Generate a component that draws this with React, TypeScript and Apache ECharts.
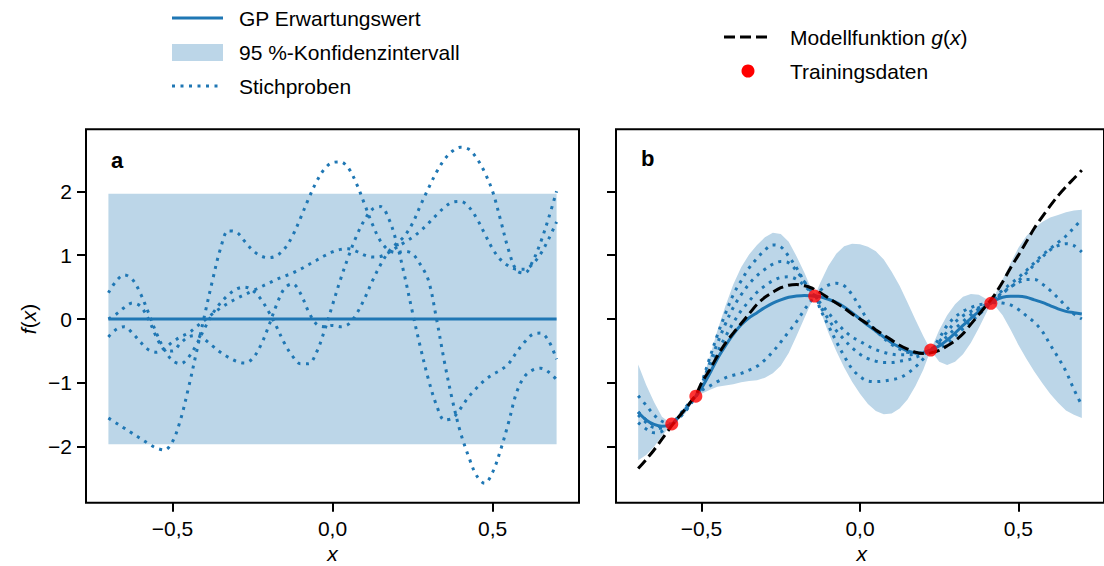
import React, { useEffect, useRef } from "react";
import * as echarts from "echarts";

// ---------- axes ----------
const xTicks = [-0.5, 0, 0.5];
const yTicks = [-2, -1, 0, 1, 2];
const X_MIN = -0.77;
const X_MAX = 0.77;
const Y_MIN = -2.875;
const Y_MAX = 2.97;

// ---------- panel a (prior) ----------
const aMeanX = [-0.7, 0.7];
const aMeanY = [0, 0];
const aLower = [-1.96, -1.96];
const aUpper = [1.96, 1.96];
const aX = [-0.7, -0.675, -0.65, -0.625, -0.6, -0.575, -0.55, -0.525, -0.5, -0.475, -0.45, -0.425, -0.4, -0.375, -0.35, -0.325, -0.3, -0.275, -0.25, -0.225, -0.2, -0.175, -0.15, -0.125, -0.1, -0.075, -0.05, -0.025, 0, 0.025, 0.05, 0.075, 0.1, 0.125, 0.15, 0.175, 0.2, 0.225, 0.25, 0.275, 0.3, 0.325, 0.35, 0.375, 0.4, 0.425, 0.45, 0.475, 0.5, 0.525, 0.55, 0.575, 0.6, 0.625, 0.65, 0.675, 0.7];
const aS1 = [0.41, 0.6, 0.69, 0.62, 0.4, 0.1, -0.22, -0.48, -0.65, -0.7, -0.6, -0.4, -0.15, 0.08, 0.25, 0.38, 0.47, 0.5, 0.45, 0.32, 0.12, -0.12, -0.38, -0.58, -0.7, -0.7, -0.52, -0.18, 0.22, 0.62, 0.98, 1.3, 1.55, 1.72, 1.76, 1.58, 1.2, 0.68, 0.1, -0.45, -0.95, -1.35, -1.58, -1.55, -1.4, -1.22, -1.08, -0.96, -0.87, -0.8, -0.7, -0.52, -0.36, -0.24, -0.22, -0.34, -0.63];
const aS2 = [-1.55, -1.63, -1.71, -1.79, -1.87, -1.95, -2.02, -2.05, -1.92, -1.58, -1.08, -0.52, 0.05, 0.6, 1.1, 1.38, 1.36, 1.22, 1.08, 0.99, 0.96, 0.99, 1.1, 1.3, 1.58, 1.88, 2.15, 2.35, 2.45, 2.46, 2.36, 2.12, 1.8, 1.48, 1.22, 1.08, 1.04, 1.06, 1.02, 0.85, 0.6, 0.0, -0.68, -1.28, -1.78, -2.15, -2.45, -2.57, -2.4, -2.05, -1.62, -1.15, -0.9, -0.8, -0.77, -0.83, -0.95];
const aS3 = [0.0, 0.08, 0.18, 0.25, 0.2, 0.0, -0.28, -0.48, -0.5, -0.38, -0.28, -0.26, -0.32, -0.42, -0.52, -0.6, -0.66, -0.69, -0.62, -0.42, -0.12, 0.22, 0.48, 0.55, 0.4, 0.12, -0.08, -0.12, -0.1, -0.12, -0.08, 0.08, 0.32, 0.6, 0.85, 1.05, 1.18, 1.3, 1.5, 1.78, 2.05, 2.3, 2.5, 2.63, 2.69, 2.66, 2.52, 2.3, 2.0, 1.55, 1.08, 0.76, 0.72, 0.9, 1.2, 1.58, 2.0];
const aS4 = [-0.28, -0.16, -0.12, -0.22, -0.36, -0.48, -0.52, -0.46, -0.36, -0.28, -0.22, -0.12, -0.02, 0.08, 0.17, 0.25, 0.32, 0.38, 0.44, 0.5, 0.56, 0.62, 0.67, 0.72, 0.78, 0.85, 0.92, 0.99, 1.05, 1.09, 1.1, 1.06, 1.0, 0.97, 0.98, 1.04, 1.12, 1.2, 1.28, 1.38, 1.5, 1.63, 1.75, 1.83, 1.84, 1.76, 1.58, 1.34, 1.1, 0.93, 0.83, 0.78, 0.78, 0.86, 1.02, 1.25, 1.52];

// ---------- panel b (posterior) ----------
const bX = [-0.7, -0.675, -0.65, -0.625, -0.594, -0.575, -0.55, -0.535, -0.518, -0.5, -0.475, -0.45, -0.425, -0.4, -0.375, -0.35, -0.325, -0.3, -0.275, -0.25, -0.225, -0.2, -0.175, -0.155, -0.143, -0.125, -0.1, -0.075, -0.05, -0.025, 0, 0.025, 0.05, 0.075, 0.1, 0.125, 0.15, 0.175, 0.2, 0.223, 0.25, 0.275, 0.3, 0.325, 0.35, 0.375, 0.4, 0.413, 0.425, 0.45, 0.475, 0.5, 0.525, 0.55, 0.575, 0.6, 0.625, 0.65, 0.675, 0.7];
const bMean = [-1.46, -1.58, -1.65, -1.68, -1.643, -1.55, -1.41, -1.31, -1.207, -1.08, -0.86, -0.62, -0.42, -0.24, -0.09, 0.02, 0.1, 0.18, 0.25, 0.3, 0.34, 0.36, 0.37, 0.365, 0.36, 0.35, 0.31, 0.26, 0.19, 0.1, 0.0, -0.1, -0.19, -0.28, -0.37, -0.44, -0.5, -0.53, -0.53, -0.485, -0.42, -0.33, -0.22, -0.1, 0.01, 0.12, 0.21, 0.247, 0.29, 0.34, 0.355, 0.355, 0.34, 0.3, 0.26, 0.21, 0.16, 0.12, 0.1, 0.08];
const bHalfWidth = [0.75, 0.55, 0.35, 0.15, 0.0, 0.04, 0.06, 0.04, 0.0, 0.09, 0.25, 0.44, 0.62, 0.78, 0.9, 0.99, 1.06, 1.1, 1.1, 1.03, 0.87, 0.62, 0.35, 0.12, 0.0, 0.22, 0.52, 0.76, 0.95, 1.08, 1.17, 1.23, 1.25, 1.21, 1.11, 0.96, 0.76, 0.52, 0.26, 0.0, 0.25, 0.39, 0.45, 0.45, 0.38, 0.26, 0.1, 0.0, 0.08, 0.28, 0.52, 0.76, 0.96, 1.12, 1.26, 1.38, 1.47, 1.55, 1.6, 1.63];
const bModel = [-2.34, -2.2, -2.05, -1.88, -1.67, -1.55, -1.4, -1.3, -1.19, -1.0, -0.8, -0.58, -0.38, -0.22, -0.07, 0.08, 0.23, 0.34, 0.42, 0.49, 0.53, 0.54, 0.52, 0.49, 0.46, 0.41, 0.33, 0.25, 0.17, 0.08, 0.0, -0.08, -0.17, -0.25, -0.33, -0.41, -0.47, -0.52, -0.54, -0.53, -0.49, -0.42, -0.34, -0.23, -0.08, 0.07, 0.22, 0.3, 0.38, 0.58, 0.8, 1.0, 1.21, 1.42, 1.6, 1.77, 1.93, 2.07, 2.2, 2.33];
const bS1 = [-1.2, -1.35, -1.5, -1.6, -1.643, -1.53, -1.38, -1.29, -1.207, -1.0, -0.62, -0.25, 0.08, 0.38, 0.6, 0.8, 0.95, 1.08, 1.16, 1.13, 0.98, 0.8, 0.58, 0.44, 0.36, 0.45, 0.53, 0.56, 0.52, 0.38, 0.18, -0.02, -0.18, -0.3, -0.4, -0.47, -0.52, -0.53, -0.52, -0.485, -0.3, -0.1, 0.03, 0.12, 0.18, 0.22, 0.24, 0.247, 0.33, 0.45, 0.55, 0.65, 0.76, 0.88, 1.0, 1.1, 1.2, 1.3, 1.43, 1.56];
const bS2 = [-1.45, -1.58, -1.66, -1.69, -1.643, -1.56, -1.42, -1.32, -1.207, -1.02, -0.7, -0.38, -0.08, 0.18, 0.38, 0.55, 0.68, 0.78, 0.86, 0.9, 0.88, 0.75, 0.58, 0.43, 0.36, 0.25, 0.1, -0.05, -0.18, -0.28, -0.35, -0.42, -0.48, -0.52, -0.55, -0.56, -0.56, -0.55, -0.52, -0.485, -0.35, -0.2, -0.05, 0.05, 0.12, 0.18, 0.23, 0.247, 0.31, 0.42, 0.5, 0.6, 0.72, 0.85, 0.97, 1.08, 1.15, 1.18, 1.15, 1.05];
const bS3 = [-1.5, -1.62, -1.7, -1.71, -1.643, -1.55, -1.41, -1.31, -1.207, -1.05, -0.8, -0.52, -0.28, -0.06, 0.13, 0.28, 0.42, 0.52, 0.6, 0.65, 0.66, 0.62, 0.52, 0.42, 0.36, 0.2, 0.0, -0.18, -0.32, -0.45, -0.55, -0.62, -0.66, -0.68, -0.68, -0.66, -0.64, -0.6, -0.55, -0.485, -0.38, -0.27, -0.15, -0.04, 0.07, 0.16, 0.23, 0.247, 0.3, 0.4, 0.5, 0.57, 0.62, 0.62, 0.55, 0.45, 0.33, 0.2, 0.08, 0.0];
const bS4 = [-1.62, -1.72, -1.78, -1.76, -1.643, -1.57, -1.44, -1.34, -1.207, -1.12, -1.05, -0.98, -0.92, -0.88, -0.85, -0.8, -0.74, -0.64, -0.51, -0.36, -0.2, -0.04, 0.15, 0.28, 0.36, 0.15, -0.1, -0.35, -0.58, -0.78, -0.9, -0.97, -0.98, -0.97, -0.95, -0.92, -0.85, -0.75, -0.62, -0.485, -0.46, -0.38, -0.27, -0.15, -0.04, 0.07, 0.18, 0.247, 0.26, 0.25, 0.22, 0.15, 0.05, -0.05, -0.19, -0.4, -0.6, -0.82, -1.1, -1.35];
const trainX = [-0.594, -0.518, -0.143, 0.223, 0.413];
const trainY = [-1.643, -1.207, 0.36, -0.485, 0.247];

// ---------- legend ----------
const legendLeft = ["GP Erwartungswert", "95 %-Konfidenzintervall", "Stichproben"];
const legendRight = ["Modellfunktion ", "Trainingsdaten"];

const BLUE = "#1f77b4";
const BAND = "#bcd6e8";
const FONT = "'Liberation Sans', Arial, Helvetica, sans-serif";
const FS = 21;

const pairs = (xs: number[], ys: number[]) => xs.map((x, i) => [x, ys[i]]);

// confidence band: one polygon (upper edge forward, lower edge back) placed through the axes' own scales
function bandSeries(idx: number, xs: number[], lo: number[], hi: number[]) {
  return {
    type: "custom", xAxisIndex: idx, yAxisIndex: idx, silent: true, z: 1,
    data: [[xs[0], lo[0]]],
    renderItem: (_params: any, api: any) => {
      const top = xs.map((x, i) => api.coord([x, hi[i]]));
      const bottom = xs.map((x, i) => api.coord([x, lo[i]])).reverse();
      return { type: "polygon", shape: { points: top.concat(bottom) }, style: { fill: BAND, stroke: null } };
    },
  };
}

function dotted(idx: number, xs: number[], ys: number[]) {
  return {
    type: "line", xAxisIndex: idx, yAxisIndex: idx, data: pairs(xs, ys), smooth: 0.35,
    showSymbol: false, symbol: "none", silent: true, z: 3,
    lineStyle: { color: BLUE, width: 3, type: [3, 5.5], cap: "butt" },
  };
}

function xAxisDef(idx: number) {
  return {
    type: "value", gridIndex: idx, min: X_MIN, max: X_MAX, position: "bottom",
    axisLine: { show: false, onZero: false }, splitLine: { show: false },
    axisTick: { show: true, customValues: xTicks, length: 9, inside: false, lineStyle: { color: "#000", width: 2 } },
    axisLabel: {
      show: true, customValues: xTicks, margin: 15, color: "#000", fontSize: FS, fontFamily: FONT,
      formatter: (v: number) => v.toFixed(1).replace(".", ",").replace("-", "\u2212"),
    },
  };
}

function yAxisDef(idx: number, labels: boolean) {
  return {
    type: "value", gridIndex: idx, min: Y_MIN, max: Y_MAX, position: "left",
    axisLine: { show: false, onZero: false }, splitLine: { show: false },
    axisTick: { show: true, customValues: yTicks, length: 9, inside: false, lineStyle: { color: "#000", width: 2 } },
    axisLabel: {
      show: labels, customValues: yTicks, margin: 14, color: "#000", fontSize: FS, fontFamily: FONT,
      formatter: (v: number) => String(v).replace("-", "\u2212"),
    },
  };
}

export default function App() {
  const ref = useRef<HTMLDivElement>(null);
  useEffect(() => {
    document.body.style.margin = "0";
    if (!ref.current) return;
    const chart = echarts.init(ref.current, undefined, { renderer: "svg" });
    const bLower = bMean.map((m, i) => m - bHalfWidth[i]);
    const bUpper = bMean.map((m, i) => m + bHalfWidth[i]);
    const txt = (text: string, x: number, y: number, extra: any = {}) => ({
      type: "text", x, y, silent: true,
      style: { text, fill: "#000", fontSize: FS, fontFamily: FONT, verticalAlign: "middle", align: "left", ...extra },
    });
    const italicX = (x: number) => ({
      type: "text", x, y: 553, silent: true,
      style: { text: "x", fill: "#000", fontSize: FS, fontFamily: FONT, fontStyle: "italic", align: "center", verticalAlign: "middle" },
    });
    const option: any = {
      animation: false,
      backgroundColor: "#fff",
      grid: [
        { left: 86, top: 129.3, width: 493, height: 373.4, show: true, borderColor: "#000", borderWidth: 2, backgroundColor: "transparent", z: 10 },
        { left: 616, top: 129.3, width: 493, height: 373.4, show: true, borderColor: "#000", borderWidth: 2, backgroundColor: "transparent", z: 10 },
      ],
      xAxis: [xAxisDef(0), xAxisDef(1)],
      yAxis: [yAxisDef(0, true), yAxisDef(1, false)],
      series: [
        bandSeries(0, aMeanX, aLower, aUpper),
        dotted(0, aX, aS1), dotted(0, aX, aS2), dotted(0, aX, aS3), dotted(0, aX, aS4),
        {
          type: "line", xAxisIndex: 0, yAxisIndex: 0, data: pairs(aMeanX, aMeanY), showSymbol: false, symbol: "none",
          lineStyle: { color: BLUE, width: 3 }, z: 4, silent: true,
        },
        bandSeries(1, bX, bLower, bUpper),
        dotted(1, bX, bS1), dotted(1, bX, bS2), dotted(1, bX, bS3), dotted(1, bX, bS4),
        {
          type: "line", xAxisIndex: 1, yAxisIndex: 1, data: pairs(bX, bMean), smooth: 0.3, showSymbol: false, symbol: "none",
          lineStyle: { color: BLUE, width: 3 }, z: 4, silent: true,
        },
        {
          type: "line", xAxisIndex: 1, yAxisIndex: 1, data: pairs(bX, bModel), smooth: 0.3, showSymbol: false, symbol: "none",
          lineStyle: { color: "#000", width: 3, type: [11, 5] }, z: 5, silent: true,
        },
        {
          type: "scatter", xAxisIndex: 1, yAxisIndex: 1, data: pairs(trainX, trainY), symbol: "circle", symbolSize: 13,
          itemStyle: { color: "#ff0000" }, z: 6, silent: true,
        },
      ],
      graphic: [
        // legend left
        { type: "line", shape: { x1: 172, y1: 18, x2: 223, y2: 18 }, style: { stroke: BLUE, lineWidth: 3 }, silent: true },
        txt(legendLeft[0], 239, 18),
        { type: "rect", shape: { x: 172, y: 44, width: 51, height: 17 }, style: { fill: BAND }, silent: true },
        txt(legendLeft[1], 239, 52),
        { type: "line", shape: { x1: 172, y1: 86, x2: 223, y2: 86 }, style: { stroke: BLUE, lineWidth: 3, lineDash: [3, 5.5] }, silent: true },
        txt(legendLeft[2], 239, 86),
        // legend right
        { type: "line", shape: { x1: 724, y1: 37, x2: 771, y2: 37 }, style: { stroke: "#000", lineWidth: 3, lineDash: [11, 5] }, silent: true },
        {
          type: "text", x: 790, y: 37, silent: true,
          style: {
            text: "{n|" + legendRight[0] + "}{i|g}{n|(}{i|x}{n|)}", verticalAlign: "middle", align: "left",
            rich: {
              n: { fontSize: FS, fontFamily: FONT, fill: "#000" },
              i: { fontSize: FS, fontFamily: FONT, fontStyle: "italic", fill: "#000" },
            },
          },
        },
        { type: "circle", shape: { cx: 748, cy: 71, r: 6.5 }, style: { fill: "#ff0000" }, silent: true },
        txt(legendRight[1], 790, 71),
        // panel labels
        txt("a", 111, 160, { fontWeight: "bold", fontSize: 22 }),
        txt("b", 641, 158, { fontWeight: "bold", fontSize: 22 }),
        // axis titles
        italicX(332.5),
        italicX(861.7),
        {
          type: "text", x: 28, y: 319, rotation: Math.PI / 2, silent: true,
          style: {
            text: "{i|f}{n|(}{i|x}{n|)}", align: "center", verticalAlign: "middle",
            rich: {
              n: { fontSize: FS, fontFamily: FONT, fill: "#000" },
              i: { fontSize: FS, fontFamily: FONT, fontStyle: "italic", fill: "#000" },
            },
          },
        },
      ],
    };
    chart.setOption(option);
    return () => chart.dispose();
  }, []);
  return <div ref={ref} style={{ width: 1104, height: 566 }} />;
}
